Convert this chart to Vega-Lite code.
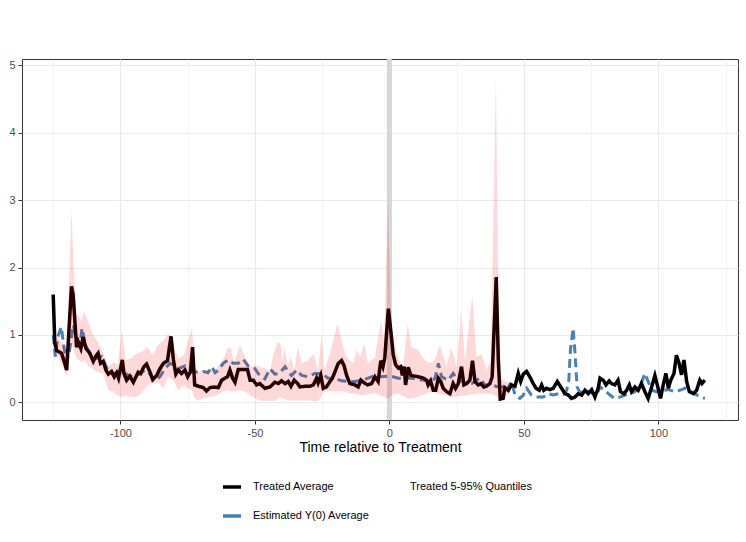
{
  "$schema": "https://vega.github.io/schema/vega-lite/v6.json",
  "width": 716,
  "height": 361,
  "autosize": {"type": "none"},
  "padding": {"left": 22, "top": 59, "right": 8, "bottom": 122},
  "config": {
    "font": "Liberation Sans",
    "view": {"stroke": "#333333", "strokeWidth": 1},
    "axis": {
      "labelFont": "Liberation Sans",
      "labelFontSize": 11,
      "labelColor": "#4d4d4d",
      "tickColor": "#333333",
      "tickSize": 4,
      "domain": false,
      "gridColor": "#ebebeb"
    }
  },
  "datasets": {
    "vline": [{"t": 0}],
    "treated": [
      {"t": -125, "v": 1.6}, {"t": -124.4, "v": 0.88}, {"t": -123.7, "v": 0.77}, {"t": -121.9, "v": 0.73},
      {"t": -121, "v": 0.62}, {"t": -120, "v": 0.48}, {"t": -118.2, "v": 1.72}, {"t": -117.6, "v": 1.6},
      {"t": -116.3, "v": 0.82}, {"t": -115.7, "v": 0.9}, {"t": -114.7, "v": 0.8}, {"t": -113.9, "v": 0.97},
      {"t": -112.8, "v": 0.8}, {"t": -111.4, "v": 0.73}, {"t": -110.1, "v": 0.61}, {"t": -109.1, "v": 0.69},
      {"t": -108.3, "v": 0.73}, {"t": -107.4, "v": 0.58}, {"t": -106.4, "v": 0.61}, {"t": -105.4, "v": 0.48},
      {"t": -104.5, "v": 0.42}, {"t": -103.3, "v": 0.46}, {"t": -102.3, "v": 0.38}, {"t": -101.4, "v": 0.44},
      {"t": -100.7, "v": 0.36}, {"t": -99.3, "v": 0.63}, {"t": -98.7, "v": 0.43}, {"t": -97.7, "v": 0.33},
      {"t": -96.5, "v": 0.39}, {"t": -95.2, "v": 0.3}, {"t": -93.4, "v": 0.45}, {"t": -92.5, "v": 0.43},
      {"t": -91.3, "v": 0.53}, {"t": -90.3, "v": 0.57}, {"t": -89, "v": 0.45}, {"t": -88, "v": 0.34},
      {"t": -86.5, "v": 0.4}, {"t": -85.3, "v": 0.5}, {"t": -84, "v": 0.58}, {"t": -82.5, "v": 0.62},
      {"t": -81.2, "v": 0.98}, {"t": -80.3, "v": 0.63}, {"t": -79.4, "v": 0.42}, {"t": -78.5, "v": 0.48},
      {"t": -77.3, "v": 0.43}, {"t": -76, "v": 0.48}, {"t": -75, "v": 0.38}, {"t": -74, "v": 0.45},
      {"t": -73.2, "v": 0.82}, {"t": -72.4, "v": 0.26}, {"t": -71, "v": 0.24}, {"t": -69.2, "v": 0.22},
      {"t": -68, "v": 0.17}, {"t": -66.7, "v": 0.22}, {"t": -65, "v": 0.23}, {"t": -63.6, "v": 0.22},
      {"t": -62.4, "v": 0.33}, {"t": -61.2, "v": 0.36}, {"t": -60.2, "v": 0.38}, {"t": -59.3, "v": 0.48},
      {"t": -58.3, "v": 0.36}, {"t": -57.4, "v": 0.3}, {"t": -56.2, "v": 0.49}, {"t": -54.3, "v": 0.49},
      {"t": -52.8, "v": 0.49}, {"t": -51.8, "v": 0.33}, {"t": -50.6, "v": 0.33}, {"t": -49.4, "v": 0.26},
      {"t": -48.2, "v": 0.28}, {"t": -46.3, "v": 0.21}, {"t": -44.4, "v": 0.23}, {"t": -42.6, "v": 0.3},
      {"t": -41.3, "v": 0.28}, {"t": -40.1, "v": 0.32}, {"t": -38.8, "v": 0.28}, {"t": -37.6, "v": 0.31},
      {"t": -36.6, "v": 0.24}, {"t": -35.4, "v": 0.33}, {"t": -34.1, "v": 0.28}, {"t": -33.3, "v": 0.23},
      {"t": -31.4, "v": 0.24}, {"t": -29.6, "v": 0.24}, {"t": -28.3, "v": 0.26}, {"t": -27.1, "v": 0.36},
      {"t": -26.5, "v": 0.29}, {"t": -25.5, "v": 0.4}, {"t": -24.6, "v": 0.21}, {"t": -23.4, "v": 0.23},
      {"t": -22.1, "v": 0.31}, {"t": -21.2, "v": 0.36}, {"t": -20.3, "v": 0.45}, {"t": -19, "v": 0.58},
      {"t": -17.8, "v": 0.62}, {"t": -16.9, "v": 0.55}, {"t": -15.9, "v": 0.4}, {"t": -14.7, "v": 0.28},
      {"t": -12.8, "v": 0.26}, {"t": -11.6, "v": 0.23}, {"t": -10.6, "v": 0.33}, {"t": -9.4, "v": 0.29},
      {"t": -8.1, "v": 0.26}, {"t": -6.6, "v": 0.28}, {"t": -5.4, "v": 0.38}, {"t": -4.2, "v": 0.31},
      {"t": -3.2, "v": 0.62}, {"t": -2.4, "v": 0.53}, {"t": -1.7, "v": 0.67}, {"t": -0.4, "v": 1.39},
      {"t": 0.6, "v": 1.03}, {"t": 1.4, "v": 0.71}, {"t": 2.3, "v": 0.56}, {"t": 3.3, "v": 0.51},
      {"t": 4.2, "v": 0.53}, {"t": 4.8, "v": 0.4}, {"t": 5.5, "v": 0.53}, {"t": 6, "v": 0.26},
      {"t": 7, "v": 0.52}, {"t": 8, "v": 0.4}, {"t": 9.5, "v": 0.39}, {"t": 10.7, "v": 0.38},
      {"t": 12.6, "v": 0.36}, {"t": 13.8, "v": 0.33}, {"t": 14.4, "v": 0.26}, {"t": 15.3, "v": 0.32},
      {"t": 16.3, "v": 0.18}, {"t": 17.2, "v": 0.18}, {"t": 18.2, "v": 0.36}, {"t": 19.1, "v": 0.31},
      {"t": 20, "v": 0.21}, {"t": 21.3, "v": 0.16}, {"t": 22.5, "v": 0.13}, {"t": 23.7, "v": 0.28},
      {"t": 24.6, "v": 0.21}, {"t": 25.6, "v": 0.28}, {"t": 26.8, "v": 0.53}, {"t": 27.7, "v": 0.26},
      {"t": 28.7, "v": 0.28}, {"t": 29.9, "v": 0.33}, {"t": 30.9, "v": 0.62}, {"t": 31.8, "v": 0.31},
      {"t": 33, "v": 0.26}, {"t": 34, "v": 0.28}, {"t": 35.1, "v": 0.23}, {"t": 36.1, "v": 0.24},
      {"t": 37.4, "v": 0.28}, {"t": 38.2, "v": 0.38}, {"t": 39.7, "v": 1.86}, {"t": 40.5, "v": 0.62},
      {"t": 41.2, "v": 0.05}, {"t": 42.3, "v": 0.06}, {"t": 42.9, "v": 0.22}, {"t": 44.2, "v": 0.18},
      {"t": 45.4, "v": 0.26}, {"t": 46.7, "v": 0.24}, {"t": 47.9, "v": 0.43}, {"t": 48.8, "v": 0.31},
      {"t": 49.8, "v": 0.42}, {"t": 51, "v": 0.46}, {"t": 52.2, "v": 0.38}, {"t": 53.5, "v": 0.28},
      {"t": 54.5, "v": 0.21}, {"t": 55.7, "v": 0.18}, {"t": 56.6, "v": 0.26}, {"t": 57.4, "v": 0.18},
      {"t": 58.4, "v": 0.21}, {"t": 59.7, "v": 0.19}, {"t": 60.9, "v": 0.21}, {"t": 62.4, "v": 0.31},
      {"t": 64, "v": 0.21}, {"t": 65.3, "v": 0.13}, {"t": 66.5, "v": 0.11}, {"t": 67.7, "v": 0.06},
      {"t": 69, "v": 0.08}, {"t": 70.2, "v": 0.13}, {"t": 71.5, "v": 0.11}, {"t": 72.7, "v": 0.18},
      {"t": 73.9, "v": 0.13}, {"t": 75.2, "v": 0.19}, {"t": 76.4, "v": 0.08}, {"t": 77.6, "v": 0.21},
      {"t": 78.3, "v": 0.36}, {"t": 79.5, "v": 0.33}, {"t": 80.5, "v": 0.26}, {"t": 81.7, "v": 0.32},
      {"t": 82.6, "v": 0.28}, {"t": 83.8, "v": 0.26}, {"t": 85, "v": 0.33}, {"t": 85.9, "v": 0.16},
      {"t": 87.2, "v": 0.13}, {"t": 88.2, "v": 0.18}, {"t": 89.2, "v": 0.26}, {"t": 90, "v": 0.16},
      {"t": 91.3, "v": 0.23}, {"t": 92.5, "v": 0.18}, {"t": 93.7, "v": 0.28}, {"t": 95, "v": 0.16},
      {"t": 96.2, "v": 0.06}, {"t": 97.5, "v": 0.23}, {"t": 98.7, "v": 0.4}, {"t": 99.9, "v": 0.21},
      {"t": 100.8, "v": 0.06}, {"t": 101.8, "v": 0.26}, {"t": 102.8, "v": 0.43}, {"t": 103.7, "v": 0.21},
      {"t": 104.6, "v": 0.33}, {"t": 105.8, "v": 0.43}, {"t": 106.7, "v": 0.7}, {"t": 107.7, "v": 0.58},
      {"t": 108.6, "v": 0.41}, {"t": 109.5, "v": 0.63}, {"t": 110.5, "v": 0.31}, {"t": 111.5, "v": 0.16},
      {"t": 113, "v": 0.13}, {"t": 114.2, "v": 0.18}, {"t": 115.4, "v": 0.33}, {"t": 116.2, "v": 0.28},
      {"t": 117.3, "v": 0.33}
    ],
    "y0": [
      {"t": -125, "v": 1.0}, {"t": -124.2, "v": 0.68}, {"t": -123.3, "v": 0.97}, {"t": -122, "v": 1.12},
      {"t": -121, "v": 0.82}, {"t": -120, "v": 0.6}, {"t": -119, "v": 0.75}, {"t": -117.5, "v": 1.15},
      {"t": -116.3, "v": 0.95}, {"t": -115, "v": 0.85}, {"t": -114.3, "v": 1.1}, {"t": -113, "v": 0.85},
      {"t": -111, "v": 0.7}, {"t": -109, "v": 0.65}, {"t": -107, "v": 0.68}, {"t": -105, "v": 0.5},
      {"t": -103, "v": 0.42}, {"t": -101, "v": 0.45}, {"t": -99, "v": 0.45}, {"t": -97, "v": 0.4},
      {"t": -95.5, "v": 0.38}, {"t": -93, "v": 0.42}, {"t": -91, "v": 0.48}, {"t": -89, "v": 0.42},
      {"t": -87.8, "v": 0.33}, {"t": -86, "v": 0.36}, {"t": -85.3, "v": 0.38}, {"t": -83.5, "v": 0.5},
      {"t": -81.6, "v": 0.58}, {"t": -80, "v": 0.55}, {"t": -78.5, "v": 0.5}, {"t": -76, "v": 0.54},
      {"t": -74, "v": 0.48}, {"t": -71.7, "v": 0.45}, {"t": -69.2, "v": 0.46}, {"t": -67.5, "v": 0.44},
      {"t": -66, "v": 0.53}, {"t": -64.8, "v": 0.44}, {"t": -63.5, "v": 0.48}, {"t": -61.8, "v": 0.58},
      {"t": -59.9, "v": 0.63}, {"t": -58.1, "v": 0.58}, {"t": -56.2, "v": 0.58}, {"t": -54.3, "v": 0.64},
      {"t": -52.5, "v": 0.54}, {"t": -50, "v": 0.5}, {"t": -48.2, "v": 0.4}, {"t": -46.3, "v": 0.35},
      {"t": -44.4, "v": 0.5}, {"t": -42.6, "v": 0.42}, {"t": -41, "v": 0.43}, {"t": -38.8, "v": 0.53},
      {"t": -37.6, "v": 0.45}, {"t": -36.4, "v": 0.4}, {"t": -34.5, "v": 0.48}, {"t": -32.6, "v": 0.4},
      {"t": -30.2, "v": 0.38}, {"t": -27.7, "v": 0.43}, {"t": -25.2, "v": 0.43}, {"t": -22.8, "v": 0.36},
      {"t": -20.3, "v": 0.36}, {"t": -17.8, "v": 0.32}, {"t": -15.3, "v": 0.31}, {"t": -12.8, "v": 0.31},
      {"t": -10.3, "v": 0.33}, {"t": -7.9, "v": 0.36}, {"t": -5.4, "v": 0.4}, {"t": -2.9, "v": 0.38},
      {"t": -0.4, "v": 0.39}, {"t": 1.4, "v": 0.38}, {"t": 3.3, "v": 0.36}, {"t": 5.7, "v": 0.36},
      {"t": 8.2, "v": 0.36}, {"t": 10.7, "v": 0.34}, {"t": 13.2, "v": 0.33}, {"t": 15.7, "v": 0.31},
      {"t": 17, "v": 0.36}, {"t": 18.2, "v": 0.58}, {"t": 19.4, "v": 0.38}, {"t": 21.9, "v": 0.33},
      {"t": 23.7, "v": 0.43}, {"t": 24.9, "v": 0.36}, {"t": 28.1, "v": 0.28}, {"t": 30.6, "v": 0.28},
      {"t": 33.6, "v": 0.36}, {"t": 35.5, "v": 0.26}, {"t": 38, "v": 0.26}, {"t": 40.5, "v": 0.23},
      {"t": 42.3, "v": 0.23}, {"t": 43.5, "v": 0.18}, {"t": 45.4, "v": 0.31}, {"t": 46.7, "v": 0.11},
      {"t": 48.5, "v": 0.06}, {"t": 49.8, "v": 0.11}, {"t": 51, "v": 0.21}, {"t": 52.8, "v": 0.11},
      {"t": 54.7, "v": 0.08}, {"t": 57.1, "v": 0.08}, {"t": 59, "v": 0.13}, {"t": 60.9, "v": 0.11},
      {"t": 62.8, "v": 0.13}, {"t": 64.6, "v": 0.12}, {"t": 65.9, "v": 0.18}, {"t": 66.7, "v": 0.33},
      {"t": 67.3, "v": 0.78}, {"t": 68.3, "v": 1.1}, {"t": 69, "v": 0.73}, {"t": 69.8, "v": 0.23},
      {"t": 70.8, "v": 0.15}, {"t": 72.7, "v": 0.18}, {"t": 74.6, "v": 0.15}, {"t": 77, "v": 0.11},
      {"t": 78.3, "v": 0.23}, {"t": 80.1, "v": 0.18}, {"t": 82, "v": 0.11}, {"t": 83.8, "v": 0.06},
      {"t": 85.7, "v": 0.08}, {"t": 87.6, "v": 0.11}, {"t": 89.4, "v": 0.13}, {"t": 91.3, "v": 0.16},
      {"t": 93.1, "v": 0.23}, {"t": 95, "v": 0.43}, {"t": 95.8, "v": 0.35}, {"t": 97.5, "v": 0.18},
      {"t": 99.3, "v": 0.16}, {"t": 101.8, "v": 0.18}, {"t": 103.7, "v": 0.19}, {"t": 106.1, "v": 0.16},
      {"t": 107.9, "v": 0.18}, {"t": 109.9, "v": 0.21}, {"t": 111.7, "v": 0.16}, {"t": 113.6, "v": 0.13},
      {"t": 115.4, "v": 0.08}, {"t": 117.3, "v": 0.06}
    ],
    "band": [
      {"t": -125, "lo": 0.75, "hi": 1.0}, {"t": -123, "lo": 0.65, "hi": 0.95}, {"t": -121, "lo": 0.5, "hi": 0.85},
      {"t": -120, "lo": 0.38, "hi": 0.7}, {"t": -118.2, "lo": 0.9, "hi": 2.85}, {"t": -117.3, "lo": 0.75, "hi": 1.9},
      {"t": -116.3, "lo": 0.65, "hi": 1.33}, {"t": -114.5, "lo": 0.6, "hi": 1.2}, {"t": -113.5, "lo": 0.63, "hi": 1.35},
      {"t": -112, "lo": 0.55, "hi": 1.2}, {"t": -110.5, "lo": 0.5, "hi": 1.03}, {"t": -108.5, "lo": 0.45, "hi": 0.9},
      {"t": -106.5, "lo": 0.43, "hi": 0.73}, {"t": -104.5, "lo": 0.18, "hi": 0.53}, {"t": -102.5, "lo": 0.15, "hi": 0.6},
      {"t": -101, "lo": 0.1, "hi": 0.55}, {"t": -99.5, "lo": 0.08, "hi": 1.07}, {"t": -98, "lo": 0.1, "hi": 0.63},
      {"t": -96, "lo": 0.08, "hi": 0.65}, {"t": -94, "lo": 0.08, "hi": 0.73}, {"t": -92, "lo": 0.15, "hi": 0.75},
      {"t": -90, "lo": 0.25, "hi": 0.82}, {"t": -88, "lo": 0.28, "hi": 0.7}, {"t": -86, "lo": 0.3, "hi": 0.85},
      {"t": -84, "lo": 0.21, "hi": 0.92}, {"t": -82.2, "lo": 0.38, "hi": 1.02}, {"t": -81, "lo": 0.35, "hi": 0.95},
      {"t": -80, "lo": 0.3, "hi": 0.8}, {"t": -78.5, "lo": 0.18, "hi": 0.65}, {"t": -76.5, "lo": 0.25, "hi": 0.7},
      {"t": -74.5, "lo": 0.2, "hi": 0.97}, {"t": -73.4, "lo": 0.18, "hi": 1.1}, {"t": -72.6, "lo": 0.08, "hi": 0.58},
      {"t": -71.6, "lo": 0.03, "hi": 0.45}, {"t": -69.5, "lo": 0.06, "hi": 0.48}, {"t": -67, "lo": 0.08, "hi": 0.48},
      {"t": -64.5, "lo": 0.1, "hi": 0.5}, {"t": -62, "lo": 0.16, "hi": 0.62}, {"t": -60.2, "lo": 0.18, "hi": 0.8},
      {"t": -59, "lo": 0.16, "hi": 0.82}, {"t": -57.8, "lo": 0.17, "hi": 0.6}, {"t": -55.5, "lo": 0.18, "hi": 0.85},
      {"t": -53.5, "lo": 0.16, "hi": 0.65}, {"t": -51.5, "lo": 0.1, "hi": 0.53}, {"t": -49.5, "lo": 0.05, "hi": 0.55},
      {"t": -48, "lo": 0.03, "hi": 0.53}, {"t": -46, "lo": 0.02, "hi": 0.5}, {"t": -44.4, "lo": 0.02, "hi": 0.45},
      {"t": -43, "lo": 0.02, "hi": 0.73}, {"t": -41.5, "lo": 0.05, "hi": 0.9}, {"t": -40.5, "lo": 0.08, "hi": 0.87},
      {"t": -39.8, "lo": 0.06, "hi": 0.62}, {"t": -39, "lo": 0.05, "hi": 0.82}, {"t": -37.8, "lo": 0.03, "hi": 0.55},
      {"t": -36.6, "lo": 0.03, "hi": 0.67}, {"t": -35.3, "lo": 0.03, "hi": 0.48}, {"t": -34.1, "lo": 0.03, "hi": 0.82},
      {"t": -32.6, "lo": 0.03, "hi": 0.58}, {"t": -30.2, "lo": 0.03, "hi": 0.62}, {"t": -28.3, "lo": 0.02, "hi": 0.72},
      {"t": -26.5, "lo": 0.02, "hi": 0.48}, {"t": -25.2, "lo": 0.1, "hi": 1.0}, {"t": -24.2, "lo": 0.18, "hi": 0.48},
      {"t": -22.1, "lo": 0.17, "hi": 0.72}, {"t": -19.3, "lo": 0.16, "hi": 1.17}, {"t": -17.8, "lo": 0.17, "hi": 0.92},
      {"t": -16, "lo": 0.15, "hi": 0.67}, {"t": -13.5, "lo": 0.13, "hi": 0.58}, {"t": -12.2, "lo": 0.12, "hi": 0.78},
      {"t": -10.9, "lo": 0.11, "hi": 0.67}, {"t": -9.4, "lo": 0.11, "hi": 0.87}, {"t": -8, "lo": 0.12, "hi": 0.58},
      {"t": -5.4, "lo": 0.14, "hi": 0.67}, {"t": -3.2, "lo": 0.1, "hi": 1.22}, {"t": -2, "lo": 0.08, "hi": 0.9},
      {"t": -0.5, "lo": 0.05, "hi": 3.05}, {"t": 0.6, "lo": 0.1, "hi": 1.12}, {"t": 2.4, "lo": 0.13, "hi": 0.78},
      {"t": 3.6, "lo": 0.12, "hi": 0.62}, {"t": 5, "lo": 0.1, "hi": 0.48}, {"t": 6.8, "lo": 0.06, "hi": 1.17},
      {"t": 8.2, "lo": 0.06, "hi": 0.82}, {"t": 10.6, "lo": 0.08, "hi": 0.78}, {"t": 13.2, "lo": 0.12, "hi": 0.62},
      {"t": 15, "lo": 0.16, "hi": 0.58}, {"t": 16.8, "lo": 0.15, "hi": 0.62}, {"t": 18.8, "lo": 0.12, "hi": 0.85},
      {"t": 21.2, "lo": 0.1, "hi": 0.53}, {"t": 23, "lo": 0.08, "hi": 0.82}, {"t": 25, "lo": 0.09, "hi": 0.53},
      {"t": 26.7, "lo": 0.1, "hi": 1.37}, {"t": 28.1, "lo": 0.1, "hi": 0.62}, {"t": 30.8, "lo": 0.12, "hi": 1.59},
      {"t": 32.4, "lo": 0.13, "hi": 0.67}, {"t": 34.3, "lo": 0.13, "hi": 0.72}, {"t": 36.1, "lo": 0.13, "hi": 0.48},
      {"t": 37.7, "lo": 0.13, "hi": 0.62}, {"t": 39.6, "lo": 0.1, "hi": 4.83}, {"t": 40.7, "lo": 0.05, "hi": 0.9},
      {"t": 41.5, "lo": 0.03, "hi": 0.35}, {"t": 43.5, "lo": 0.1, "hi": 0.3}, {"t": 45, "lo": 0.15, "hi": 0.28}
    ]
  },
  "layer": [
    {
      "data": {"name": "vline"},
      "mark": {"type": "rule", "color": "#d6d6d6", "strokeWidth": 5},
      "encoding": {
        "x": {
          "field": "t",
          "type": "quantitative",
          "scale": {"domain": [-136.6, 129.6], "nice": false, "zero": false},
          "axis": {
            "values": [-125, -100, -75, -50, -25, 0, 25, 50, 75, 100, 125],
            "labelExpr": "datum.value % 50 === 0 ? '' + datum.value : ''",
            "tickOpacity": {"condition": {"test": "datum.value % 50 !== 0", "value": 0}, "value": 1},
            "gridWidth": {"condition": {"test": "datum.value % 50 !== 0", "value": 0.6}, "value": 1.1},
            "title": "Time relative to Treatment",
            "titleFont": "Liberation Sans",
            "titleFontSize": 14,
            "titleFontWeight": "normal",
            "titleColor": "#000000",
            "titlePadding": 2,
            "labelPadding": 3
          }
        }
      }
    },
    {
      "data": {"name": "y0"},
      "mark": {"type": "line", "strokeWidth": 3, "strokeDash": [9, 5]},
      "encoding": {
        "x": {"field": "t", "type": "quantitative"},
        "y": {
          "field": "v",
          "type": "quantitative",
          "scale": {"domain": [-0.26, 5.09], "nice": false, "zero": false},
          "axis": {
            "title": null,
            "values": [0, 0.5, 1, 1.5, 2, 2.5, 3, 3.5, 4, 4.5, 5],
            "labelExpr": "datum.value % 1 === 0 ? '' + datum.value : ''",
            "tickOpacity": {"condition": {"test": "datum.value % 1 !== 0", "value": 0}, "value": 1},
            "gridWidth": {"condition": {"test": "datum.value % 1 !== 0", "value": 0.6}, "value": 1.1},
            "labelPadding": 3
          }
        },
        "color": {"datum": "Estimated Y(0) Average", "type": "nominal"}
      }
    },
    {
      "data": {"name": "treated"},
      "mark": {"type": "line", "strokeWidth": 3.5},
      "encoding": {
        "x": {"field": "t", "type": "quantitative"},
        "y": {"field": "v", "type": "quantitative"},
        "color": {
          "datum": "Treated Average",
          "type": "nominal",
          "scale": {
            "domain": ["Treated Average", "Estimated Y(0) Average", "Treated 5-95% Quantiles"],
            "range": ["#000000", "#4682b4", "rgba(0,0,0,0)"]
          },
          "legend": {
            "orient": "none",
            "legendX": 199,
            "legendY": 417,
            "columns": 2,
            "title": null,
            "padding": 0,
            "symbolType": "stroke",
            "symbolStrokeWidth": 3.5,
            "symbolSize": 324,
            "symbolDash": [100, 0],
            "labelFont": "Liberation Sans",
            "labelFontSize": 11,
            "labelColor": "#000000",
            "labelOffset": 10,
            "rowPadding": 11,
            "columnPadding": 3
          }
        }
      }
    },
    {
      "data": {"name": "band"},
      "mark": {"type": "area", "color": "#ff0000", "opacity": 0.15},
      "encoding": {
        "x": {"field": "t", "type": "quantitative"},
        "y": {"field": "lo", "type": "quantitative"},
        "y2": {"field": "hi"}
      }
    }
  ]
}
